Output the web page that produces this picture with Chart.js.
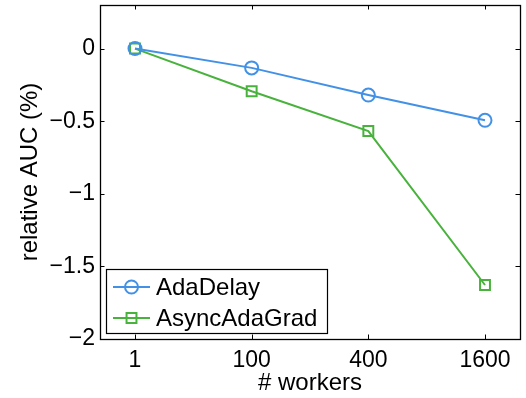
<!DOCTYPE html>
<html>
<head>
<meta charset="utf-8">
<script src="https://cdn.jsdelivr.net/npm/chart.js@4/dist/chart.umd.min.js"></script>
<style>
html,body{margin:0;padding:0;background:#fff;}
#wrap{width:526px;height:398px;}
</style>
</head>
<body>
<div id="wrap"><canvas id="c" width="526" height="398"></canvas></div>
<script>
const categories = ["1", "100", "400", "1600"];
const adaDelay = [0, -0.133, -0.32, -0.494];
const asyncAdaGrad = [0, -0.294, -0.568, -1.628];
const yTicks = [-2, -1.5, -1, -0.5, 0];
const seriesNames = ["AdaDelay", "AsyncAdaGrad"];

const BLUE = "rgb(66,145,230)";
const GREEN = "rgb(72,178,60)";
const FONT = "'Liberation Sans', Arial, Helvetica, sans-serif";

function pts(arr){ return arr.map((v,i)=>({x:i+1, y:v})); }
function fmt(v){ return v < 0 ? "\u2212" + String(Math.abs(v)) : String(v); }

const framePlugin = {
  id: 'frame',
  afterDraw(chart){
    const ctx = chart.ctx, a = chart.chartArea;
    const xs = chart.scales.x, ys = chart.scales.y;
    const L = 4.5;
    ctx.save();
    ctx.strokeStyle = '#000';
    ctx.lineWidth = 1;
    ctx.beginPath();
    xs.ticks.forEach(t=>{
      const px = Math.round(xs.getPixelForValue(t.value)) + 0.5;
      ctx.moveTo(px, a.bottom); ctx.lineTo(px, a.bottom - L);
      ctx.moveTo(px, a.top); ctx.lineTo(px, a.top + L);
    });
    ys.ticks.forEach(t=>{
      const py = Math.round(ys.getPixelForValue(t.value)) + 0.5;
      ctx.moveTo(a.left, py); ctx.lineTo(a.left + L, py);
      ctx.moveTo(a.right, py); ctx.lineTo(a.right - L, py);
    });
    ctx.stroke();
    ctx.lineWidth = 1.3;
    ctx.strokeRect(Math.round(a.left)+0.5, Math.round(a.top)+0.5, Math.round(a.right-a.left), Math.round(a.bottom-a.top));

    // legend
    const bx = 106.5, by = 269.5, bw = 221, bh = 64;
    ctx.fillStyle = '#fff';
    ctx.fillRect(bx, by, bw, bh);
    ctx.lineWidth = 1.2;
    ctx.strokeStyle = '#000';
    ctx.strokeRect(bx, by, bw, bh);
    const rows = [287, 318];
    chart.data.datasets.forEach((ds, i)=>{
      const y = rows[i];
      ctx.strokeStyle = ds.borderColor;
      ctx.lineWidth = 2;
      ctx.beginPath(); ctx.moveTo(113, y); ctx.lineTo(150, y); ctx.stroke();
      ctx.fillStyle = 'rgba(0,0,0,0)';
      ctx.strokeStyle = ds.pointBorderColor;
      ctx.lineWidth = 2;
      Chart.helpers.drawPoint(ctx, {pointStyle: ds.pointStyle, radius: ds.pointRadius, borderWidth: 2}, 131.5, y);
      ctx.fillStyle = '#000';
      ctx.font = "24px " + FONT;
      ctx.textBaseline = 'middle';
      ctx.textAlign = 'left';
      ctx.fillText(ds.label, 156, y + 1);
    });
    ctx.restore();
  }
};

new Chart(document.getElementById('c'), {
  type: 'line',
  data: {
    datasets: [
      {label: seriesNames[0], data: pts(adaDelay), borderColor: BLUE, backgroundColor: 'transparent',
       pointStyle: 'circle', pointRadius: 6.5, pointBorderWidth: 2, pointBackgroundColor: 'transparent',
       pointBorderColor: BLUE, borderWidth: 2, tension: 0},
      {label: seriesNames[1], data: pts(asyncAdaGrad), borderColor: GREEN, backgroundColor: 'transparent',
       pointStyle: 'rect', pointRadius: 7, pointBorderWidth: 2, pointBackgroundColor: 'transparent',
       pointBorderColor: GREEN, borderWidth: 2, tension: 0}
    ]
  },
  options: {
    responsive: false,
    animation: false,
    devicePixelRatio: 1,
    layout: {autoPadding: false, padding: {top: 5, right: 6, left: 0, bottom: 0}},
    plugins: {legend: {display: false}, tooltip: {enabled: false}},
    scales: {
      x: {
        type: 'linear', min: 0.7, max: 4.3,
        afterBuildTicks: s => { s.ticks = categories.map((c,i)=>({value: i+1})); },
        afterFit: s => { s.height = 59; s.paddingLeft = 0; s.paddingRight = 0; },
        grid: {display: false, drawTicks: false},
        border: {display: false},
        ticks: {color: '#000', padding: 8, font: {family: FONT, size: 23},
                callback: v => categories[v-1]},
        title: {display: true, text: '# workers', color: '#000', font: {family: FONT, size: 24},
                padding: {top: 0, bottom: 0}}
      },
      y: {
        type: 'linear', min: -2, max: 0.3,
        afterBuildTicks: s => { s.ticks = yTicks.map(v=>({value: v})); },
        afterFit: s => { s.width = 100; s.paddingTop = 0; s.paddingBottom = 0; },
        grid: {display: false, drawTicks: false},
        border: {display: false},
        ticks: {color: '#000', padding: 5, font: {family: FONT, size: 23},
                callback: v => fmt(v)},
        title: {display: true, text: 'relative AUC (%)', color: '#000', font: {family: FONT, size: 24},
                padding: {top: 16, bottom: 0}}
      }
    }
  },
  plugins: [framePlugin]
});
</script>
</body>
</html>
